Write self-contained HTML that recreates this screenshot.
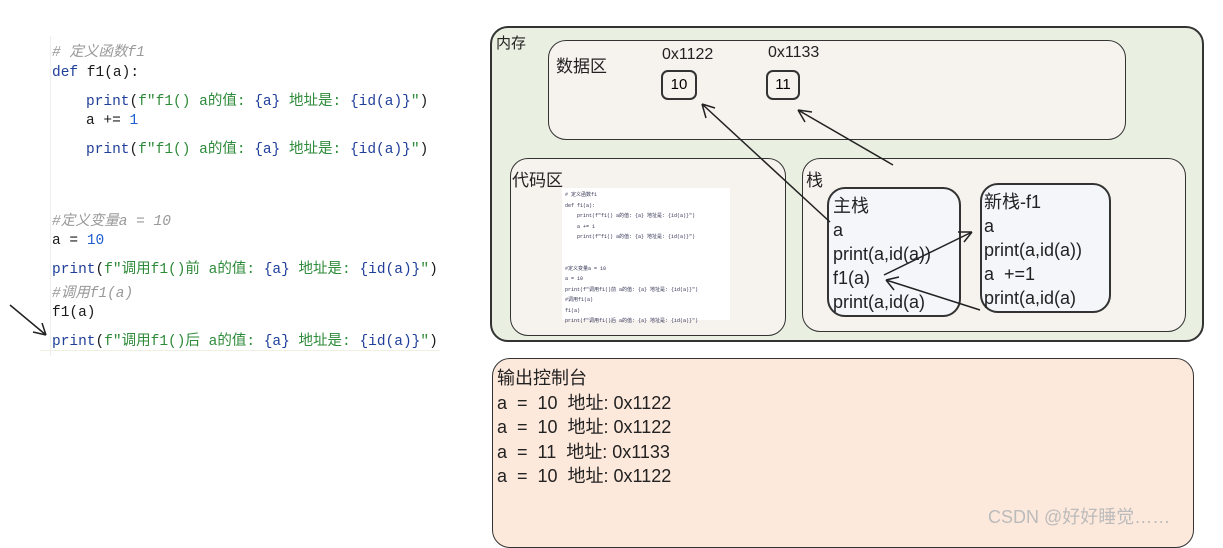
<!DOCTYPE html>
<html><head><meta charset="utf-8"><style>
body{margin:0;width:1223px;height:533px;background:#fff;position:relative;overflow:hidden;font-family:"Liberation Sans","Noto Sans CJK SC",sans-serif}
.c{position:absolute;font-family:"Liberation Mono","Noto Sans CJK SC",monospace;font-size:14.5px;white-space:pre;color:#1a1a1a}
.k{color:#1f3f9a}.s{color:#2e8b3a}.g{color:#999;font-style:italic}.n{color:#1f5fd0}
.b{position:absolute;border:2px solid #333;border-radius:18px;box-sizing:border-box}
.h{position:absolute;font-family:"Liberation Sans","Noto Sans CJK SC",sans-serif;font-size:17px;color:#222;white-space:pre}
.t{position:absolute;font-family:"Liberation Mono","Noto Sans CJK SC",monospace;font-size:5px;white-space:pre;color:#335}
</style></head><body>
<div style="position:absolute;left:50px;top:36px;width:1px;height:320px;background:#eee"></div>
<div class="c g" style="left:52px;top:40px"># 定义函数f1</div>
<div class="c" style="left:52px;top:65px"><span class="k">def</span> f1(a):</div>
<div class="c" style="left:86px;top:89px"><span class="k">print</span>(<span class="s">f"f1() a的值: </span><span class="k">{a}</span><span class="s"> 地址是: </span><span class="k">{id(a)}</span><span class="s">"</span>)</div>
<div class="c" style="left:86px;top:113px">a += <span class="n">1</span></div>
<div class="c" style="left:86px;top:137px"><span class="k">print</span>(<span class="s">f"f1() a的值: </span><span class="k">{a}</span><span class="s"> 地址是: </span><span class="k">{id(a)}</span><span class="s">"</span>)</div>
<div class="c g" style="left:52px;top:209px">#定义变量a = 10</div>
<div class="c" style="left:52px;top:233px">a = <span class="n">10</span></div>
<div class="c" style="left:52px;top:257px"><span class="k">print</span>(<span class="s">f"调用f1()前 a的值: </span><span class="k">{a}</span><span class="s"> 地址是: </span><span class="k">{id(a)}</span><span class="s">"</span>)</div>
<div class="c g" style="left:52px;top:281px">#调用f1(a)</div>
<div class="c" style="left:52px;top:305px">f1(a)</div>
<div class="c" style="left:52px;top:329px"><span class="k">print</span>(<span class="s">f"调用f1()后 a的值: </span><span class="k">{a}</span><span class="s"> 地址是: </span><span class="k">{id(a)}</span><span class="s">"</span>)</div>
<div style="position:absolute;left:40px;top:350px;width:400px;height:1px;background:#f0f0e0"></div>

<div class="b" style="left:490px;top:26px;width:714px;height:316px;background:#e9f0e1"></div>
<div class="h" style="left:496px;top:32px;font-size:15px">内存</div>
<div class="b" style="left:548px;top:40px;width:578px;height:100px;background:#f6f2ed;border-width:1.5px"></div>
<div class="h" style="left:556px;top:52px">数据区</div>
<div class="h" style="left:662px;top:46px;font-size:16px">0x1122</div>
<div class="h" style="left:768px;top:44px;font-size:16px">0x1133</div>
<div class="b" style="left:661px;top:70px;width:36px;height:30px;border-radius:7px;font-size:15px;text-align:center;line-height:26px">10</div>
<div class="b" style="left:766px;top:70px;width:34px;height:30px;border-radius:7px;font-size:15px;text-align:center;line-height:26px">11</div>
<div class="b" style="left:510px;top:158px;width:276px;height:178px;background:#f6f2ed;border-width:1.5px"></div>
<div class="h" style="left:512px;top:166px">代码区</div>
<div style="position:absolute;left:562px;top:188px;width:168px;height:132px;background:#fff"></div>
<div class="t" style="left:565px;top:190px;line-height:10.5px"># 定义函数f1
def f1(a):
    print(f"f1() a的值: {a} 地址是: {id(a)}")
    a += 1
    print(f"f1() a的值: {a} 地址是: {id(a)}")


#定义变量a = 10
a = 10
print(f"调用f1()前 a的值: {a} 地址是: {id(a)}")
#调用f1(a)
f1(a)
print(f"调用f1()后 a的值: {a} 地址是: {id(a)}")</div>
<div class="b" style="left:802px;top:158px;width:384px;height:174px;background:#f6f2ed;border-width:1.5px"></div>
<div class="h" style="left:806px;top:166px">栈</div>
<div class="b" style="left:827px;top:187px;width:134px;height:130px;background:#f4f6fa"></div>
<div class="b" style="left:980px;top:183px;width:131px;height:130px;background:#f4f6fa"></div>
<div class="h" style="left:833px;top:194px;font-size:18px;line-height:24px">主栈
a
print(a,id(a))
f1(a)
print(a,id(a)</div>
<div class="h" style="left:984px;top:190px;font-size:18px;line-height:24px">新栈-f1
a
print(a,id(a))
a  +=1
print(a,id(a)</div>
<svg style="position:absolute;left:0;top:0" width="1223" height="533"><g stroke="#222" stroke-width="1.5" fill="none">
<path d="M830 222 L702 104 M702 104 l4 14 M702 104 l13 4"/>
<path d="M893 165 L798 110 M798 110 l7 12 M798 110 l14 2"/>
<path d="M884 275 L972 232 M972 232 l-14 0 M972 232 l-8 10"/>
<path d="M980 310 L886 280 M886 280 l8 10 M886 280 l13 -3"/>
<path d="M10 305 L46 335 M46 335 l-4 -12 M46 335 l-13 -3"/>
</g></svg>
<div class="b" style="left:492px;top:358px;width:702px;height:190px;background:#fde9dc;border-width:1.5px"></div>
<div class="h" style="left:497px;top:366px;font-size:18px;line-height:24.5px">输出控制台
a  =  10  地址: 0x1122
a  =  10  地址: 0x1122
a  =  11  地址: 0x1133
a  =  10  地址: 0x1122</div>
<div class="h" style="left:988px;top:503px;color:#bbb;font-size:18px">CSDN @好好睡觉……</div>
</body></html>
